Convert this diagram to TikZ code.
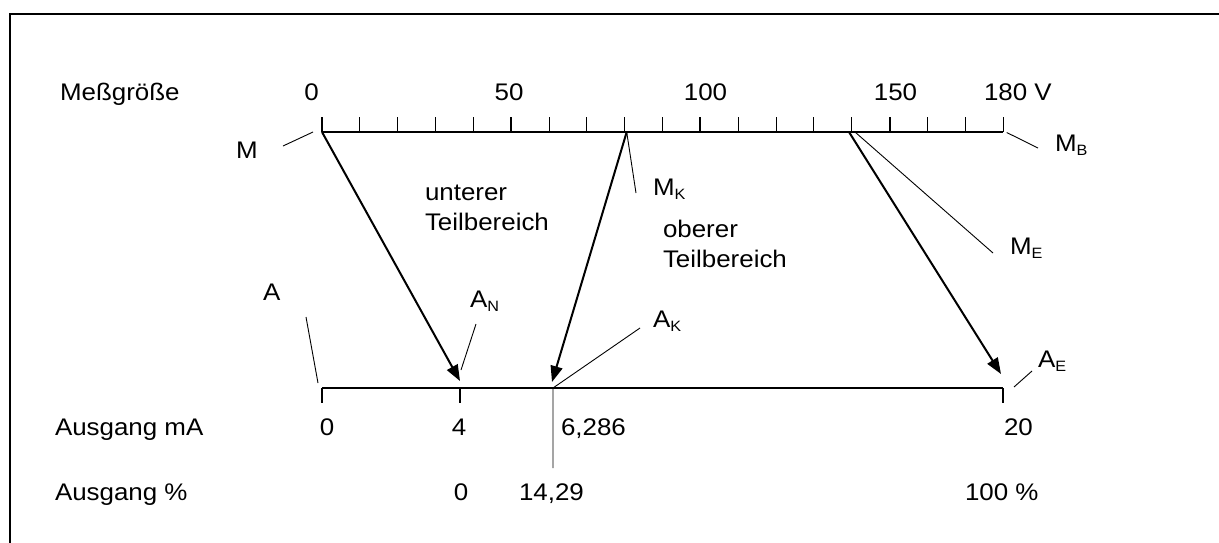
\documentclass[tikz,border=0pt]{standalone}
\usepackage{fontspec}
\setmainfont[FakeStretch=1.08]{Liberation Sans}
\usetikzlibrary{arrows.meta,calc}
\newcommand{\lowidx}[1]{\raisebox{-4pt}{\fontsize{15}{15}\selectfont #1}}
\tikzset{
  lbl/.style={inner sep=0pt, outer sep=0pt, font=\fontsize{24}{30}\selectfont},
  axisline/.style={line width=2pt},
  majortick/.style={line width=2pt},
  minortick/.style={line width=0.9pt},
  leader/.style={line width=0.9pt},
  maparrow/.style={line width=2pt, -{Triangle[length=16pt,width=12pt]}},
  frameline/.style={line width=2.3pt}
}
\begin{document}
\begin{tikzpicture}[x=1pt,y=-1pt]
\useasboundingbox (0,0) rectangle (1219,542);
\fill[white] (0,0) rectangle (1219,542);
% frame (open at right and bottom)
\draw[frameline] (10,545) -- (10,14.3) -- (1225,14.3);

% upper scale
\coordinate (U0) at (322,132);
\coordinate (U180) at (1003,132);
\coordinate (MK) at (626.7,132);
\coordinate (ME) at (849,132);
\draw[axisline] (U0) -- (U180);
\foreach \i in {1,2,3,4,6,7,8,9,11,12,13,14,16,17,18}
  \draw[minortick] ($(U0)+(37.833*\i,0)$) -- ++(0,-15);
\foreach \i in {0,5,10,15}
  \draw[majortick] ($(U0)+(37.833*\i,0)$) -- ++(0,-15);

% lower scale
\coordinate (L0) at (322,388);
\coordinate (L4) at (460,388);
\coordinate (AK) at (553,388);
\coordinate (L20) at (1003,388);
\draw[axisline] (L0) -- (L20);
\draw[majortick] (L0) -- ++(0,15);
\draw[majortick] (L4) -- ++(0,15);
\draw[majortick] (L20) -- ++(0,15);

% mapping arrows
\coordinate (T1) at (460,381);
\coordinate (T2) at (552,382);
\coordinate (T3) at (1001,374);
\draw[maparrow] (U0) -- (T1);
\draw[maparrow] (MK) -- (T2);
\draw[maparrow] (ME) -- (T3);

% texts
\node[lbl, anchor=base west] (meas) at (60,100) {Meßgröße};
\node[lbl, anchor=base] (u0) at (311.5,100) {0};
\node[lbl, anchor=base] (u50) at (509,100) {50};
\node[lbl, anchor=base] (u100) at (705.5,100) {100};
\node[lbl, anchor=base] (u150) at (895.5,100) {150};
\node[lbl, anchor=base west] (u180) at (984,100) {180 V};

\node[lbl, anchor=base west] (lM) at (236,158) {M};
\node[lbl, anchor=base west] (lMB) at (1055,151) {M\lowidx{B}};
\node[lbl, anchor=base west] (lMK) at (653,195) {M\lowidx{K}};
\node[lbl, anchor=base west] (lME) at (1010,254) {M\lowidx{E}};
\node[lbl, anchor=base west] (lA) at (263,300) {A};
\node[lbl, anchor=base west] (lAN) at (470,307) {A\lowidx{N}};
\node[lbl, anchor=base west] (lAK) at (653,327) {A\lowidx{K}};
\node[lbl, anchor=base west] (lAE) at (1038,367) {A\lowidx{E}};

\node[lbl, anchor=base west] (unt1) at (425,200) {unterer};
\node[lbl, anchor=base west] (unt2) at (425,230) {Teilbereich};
\node[lbl, anchor=base west] (ob1) at (663,237) {oberer};
\node[lbl, anchor=base west] (ob2) at (663,267) {Teilbereich};

\node[lbl, anchor=base west] (ausmA) at (55,435) {Ausgang mA};
\node[lbl, anchor=base] (d0) at (327,435) {0};
\node[lbl, anchor=base] (d4) at (459,435) {4};
\node[lbl, anchor=base west] (d6) at (561,435) {6,286};
\node[lbl, anchor=base west] (d20) at (1004,435) {20};

\node[lbl, anchor=base west] (ausP) at (55,500) {Ausgang \%};
\node[lbl, anchor=base] (p0) at (461,500) {0};
\node[lbl, anchor=base west] (p14) at (519,500) {14,29};
\node[lbl, anchor=base west] (p100) at (965,500) {100 \%};

% leader lines
\coordinate (cM1) at (283,146);   \coordinate (cM2) at (313,132);
\coordinate (cMB1) at (1006.7,132.5); \coordinate (cMB2) at (1038,148);
\coordinate (cMK2) at (636,193);
\coordinate (cME1) at (855,132);  \coordinate (cME2) at (993,253);
\coordinate (cA1) at (306,317);   \coordinate (cA2) at (318,383);
\coordinate (cAN1) at (476,324);  \coordinate (cAN2) at (461,370);
\coordinate (cAK1) at (640,328);  \coordinate (cAK2) at (553,468);
\coordinate (cAE1) at (1014,387); \coordinate (cAE2) at (1032,371);
\draw[leader] (cM1) -- (cM2);
\draw[leader] (cMB1) -- (cMB2);
\draw[leader] (MK) -- (cMK2);
\draw[leader] (cME1) -- (cME2);
\draw[leader] (cA1) -- (cA2);
\draw[leader] (cAN1) -- (cAN2);
\draw[leader] (cAK1) -- (AK) -- (cAK2);
\draw[leader] (cAE1) -- (cAE2);
\end{tikzpicture}
\end{document}
